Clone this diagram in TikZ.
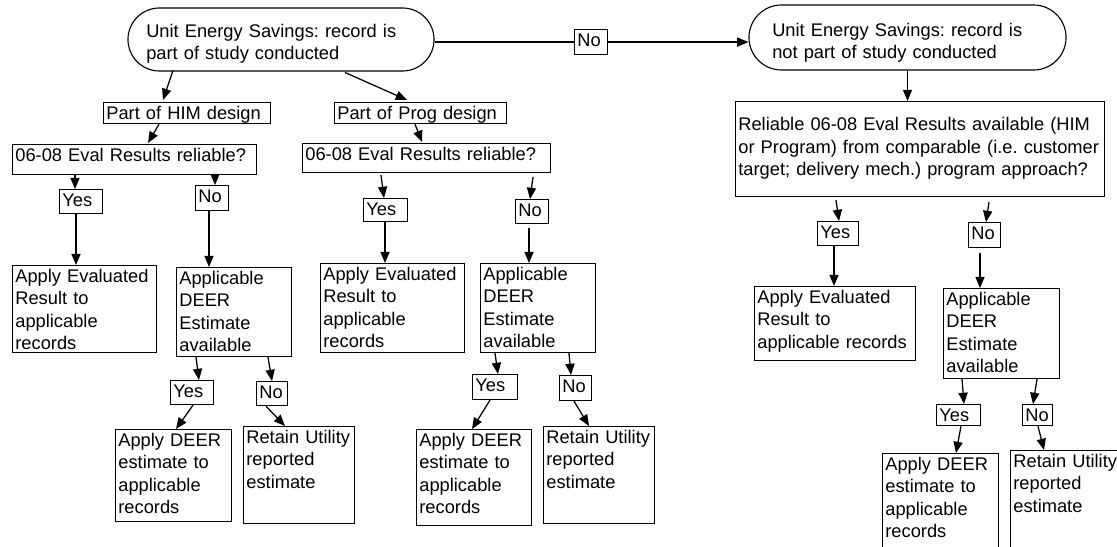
\documentclass[tikz,border=0pt]{standalone}
\usepackage{fontspec}
\setmainfont{Liberation Sans}
\usetikzlibrary{shapes.misc,arrows.meta}
\frenchspacing

\tikzstyle{box} = [draw, line width=0.8pt, anchor=north west, align=left, inner xsep=2pt, inner ysep=2pt, text height=10pt]
\tikzstyle{startend} = [rounded rectangle, draw, line width=0.8pt, inner sep=0pt]
\tikzstyle{etext} = [anchor=north west, align=left, inner sep=0pt, text width=7cm, text height=10pt]
\tikzstyle{arr} = [line width=0.9pt, -{Triangle[length=8pt,width=6.5pt]}]

\begin{document}
\begin{tikzpicture}[x=0.025cm, y=-0.025cm, every node/.style={font=\fontsize{13pt}{16pt}\selectfont}]
\clip (0,0) rectangle (1117,546);
\fill[white] (0,0) rectangle (1117,546);

% top row
\node[startend, minimum width=7.65cm, minimum height=1.575cm] (ell1) at (281,39.5) {};
\node[etext] (ell1txt) at (146,23) {Unit Energy Savings: record is\\part of study conducted};
\node[startend, minimum width=7.925cm, minimum height=1.625cm] (ell2) at (907.5,37.5) {};
\node[etext] (ell2txt) at (772,22) {Unit Energy Savings: record is\\not part of study conducted};
\node[box, text width=0.685cm, text depth=3.8pt] (nobox) at (574,29) {No};

% study conducted: HIM and Prog branches
\node[box, text width=4.035cm, text depth=1pt] (him) at (103,102) {Part of HIM design};
\node[box, text width=4.16cm, text depth=1pt] (prog) at (334,102) {Part of Prog design};
\node[box, text width=5.96cm, text depth=7.3pt] (q1) at (12,144) {06-08 Eval Results reliable?};
\node[box, text width=6.06cm, text depth=6.6pt] (q2) at (302,143) {06-08 Eval Results reliable?};

% HIM column
\node[box, text width=0.935cm, text depth=3.1pt] (yes1) at (59,189) {Yes};
\node[box, text width=0.685cm, text depth=3.8pt] (no1) at (195,185) {No};
\node[box, text width=3.46cm, text depth=48pt] (app1) at (12,265) {Apply Evaluated\\Result to\\applicable\\records};
\node[box, text width=2.735cm, text depth=49.3pt] (deer1) at (176,267) {Applicable\\DEER\\Estimate\\available};
\node[box, text width=0.935cm, text depth=3.1pt] (yes1b) at (170,380) {Yes};
\node[box, text width=0.635cm, text depth=3.1pt] (no1b) at (256,381) {No};
\node[box, text width=2.76cm, text depth=51.4pt] (dapp1) at (115,429) {Apply DEER\\estimate to\\applicable\\records};
\node[box, text width=2.635cm, text depth=55pt] (ret1) at (243,426) {Retain Utility\\reported\\estimate};

% Prog column
\node[box, text width=0.96cm, text depth=2.4pt] (yes2) at (363,198) {Yes};
\node[box, text width=0.685cm, text depth=3.1pt] (no2) at (515,199) {No};
\node[box, text width=3.46cm, text depth=49.3pt] (app2) at (320,263) {Apply Evaluated\\Result to\\applicable\\records};
\node[box, text width=2.735cm, text depth=49.3pt] (deer2) at (480,263) {Applicable\\DEER\\Estimate\\available};
\node[box, text width=0.985cm, text depth=3.8pt] (yes2b) at (472,374) {Yes};
\node[box, text width=0.66cm, text depth=3.8pt] (no2b) at (559,375) {No};
\node[box, text width=2.735cm, text depth=54.3pt] (dapp2) at (416,429) {Apply DEER\\estimate to\\applicable\\records};
\node[box, text width=2.635cm, text depth=55pt] (ret2) at (543,426) {Retain Utility\\reported\\estimate};

% not part of study
\node[box, text width=9.07cm, text height=18.6pt, text depth=45pt] (q3) at (735,101) {Reliable 06-08 Eval Results available (HIM\\or Program) from comparable (i.e. customer\\target; delivery mech.) program approach?};
\node[box, text width=0.885cm, text depth=3.1pt] (yes3) at (817,221) {Yes};
\node[box, text width=0.66cm, text depth=3.8pt] (no3) at (968,222) {No};
\node[box, text width=3.885cm, text depth=38.6pt] (app3) at (754,286) {Apply Evaluated\\Result to\\applicable records};
\node[box, text width=2.76cm, text depth=50pt] (deer3) at (943,288) {Applicable\\DEER\\Estimate\\available};
\node[box, text width=0.96cm, text depth=1pt] (yes3b) at (936,404) {Yes};
\node[box, text width=0.61cm, text depth=1pt] (no3b) at (1022,404) {No};
\node[box, text width=2.76cm, text depth=54.3pt] (dapp3) at (882,453) {Apply DEER\\estimate to\\applicable\\records};
\node[box, text width=2.635cm, text depth=55pt] (ret3) at (1010,450) {Retain Utility\\reported\\estimate};

% connectors
\draw[line width=0.9pt] (nobox.west -| ell1.east) -- (nobox.west);
\draw[arr] (nobox.east) -- (nobox.east -| ell2.west);
\draw[arr] ([shift={(-108,31)}]ell1.center) -- ([shift={(60,-2)}]him.north west);
\draw[arr] ([shift={(64,33)}]ell1.center) -- ([shift={(73,-2)}]prog.north west);
\draw[arr] (ell2.south) -- (q3.north -| ell2.south);
\draw[arr] ([shift={(56,0)}]him.south west) -- ([shift={(136,-1)}]q1.north west);
\draw[arr] ([shift={(81,0)}]prog.south west) -- ([shift={(120,-1)}]q2.north west);

\draw[arr] ([shift={(63,0)}]q1.south west) -- ([shift={(16,0)}]yes1.north west);
\draw[arr] ([shift={(203,0)}]q1.south west) -- ([shift={(20,0)}]no1.north west);
\draw[arr] ([shift={(17,0)}]yes1.south west) -- ([shift={(64,0)}]app1.north west);
\draw[arr] ([shift={(14,0)}]no1.south west) -- ([shift={(33,0)}]deer1.north west);
\draw[arr] ([shift={(20,0)}]deer1.south west) -- ([shift={(29,0)}]yes1b.north west);
\draw[arr] ([shift={(92,0)}]deer1.south west) -- ([shift={(16,0)}]no1b.north west);
\draw[arr] ([shift={(23,0)}]yes1b.south west) -- ([shift={(61,0)}]dapp1.north west);
\draw[arr] ([shift={(10,0)}]no1b.south west) -- ([shift={(42,0)}]ret1.north west);

\draw[arr] ([shift={(79,2)}]q2.south west) -- ([shift={(21,0)}]yes2.north west);
\draw[arr] ([shift={(231,4)}]q2.south west) -- ([shift={(15,0)}]no2.north west);
\draw[arr] ([shift={(22,0)}]yes2.south west) -- ([shift={(65,0)}]app2.north west);
\draw[arr] ([shift={(14,4)}]no2.south west) -- ([shift={(49,0)}]deer2.north west);
\draw[arr] ([shift={(15,0)}]deer2.south west) -- ([shift={(26,0)}]yes2b.north west);
\draw[arr] ([shift={(89,0)}]deer2.south west) -- ([shift={(12,0)}]no2b.north west);
\draw[arr] ([shift={(18,0)}]yes2b.south west) -- ([shift={(56,0)}]dapp2.north west);
\draw[arr] ([shift={(15,0)}]no2b.south west) -- ([shift={(46,0)}]ret2.north west);

\draw[arr] ([shift={(101,3)}]q3.south west) -- ([shift={(22,0)}]yes3.north west);
\draw[arr] ([shift={(254,5)}]q3.south west) -- ([shift={(18,0)}]no3.north west);
\draw[arr] ([shift={(17,0)}]yes3.south west) -- ([shift={(80,0)}]app3.north west);
\draw[arr] ([shift={(12,5)}]no3.south west) -- ([shift={(37,0)}]deer3.north west);
\draw[arr] ([shift={(19,0)}]deer3.south west) -- ([shift={(28,0)}]yes3b.north west);
\draw[arr] ([shift={(94,0)}]deer3.south west) -- ([shift={(11,0)}]no3b.north west);
\draw[arr] ([shift={(25,0)}]yes3b.south west) -- ([shift={(74,0)}]dapp3.north west);
\draw[arr] ([shift={(16,0)}]no3b.south west) -- ([shift={(34,0)}]ret3.north west);
\end{tikzpicture}
\end{document}
